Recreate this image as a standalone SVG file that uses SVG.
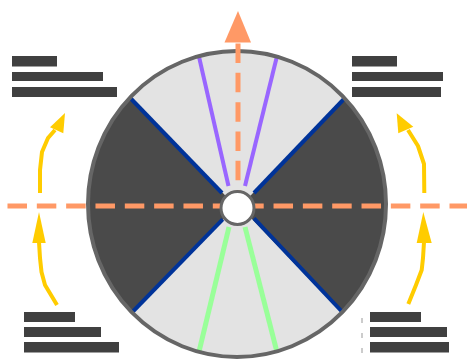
<svg xmlns="http://www.w3.org/2000/svg" width="467" height="362" viewBox="0 0 467 362">
<style>
.bar{fill:#404040}
.blue{stroke:#003399;stroke-width:4;fill:none}
.purple{stroke:#9966ff;stroke-width:4;fill:none}
.green{stroke:#99ff99;stroke-width:5;fill:none}
.dash{stroke:#ff9966;stroke-width:5;fill:none;stroke-dasharray:19.5 9.83}
.yel{stroke:#ffcc00;stroke-width:4;fill:none;stroke-linejoin:round}
.yelh{fill:#ffcc00}
</style>
<defs>
<clipPath id="disc"><ellipse cx="237" cy="204" rx="149" ry="153"/></clipPath>
</defs>
<rect width="467" height="362" fill="#ffffff"/>
<g id="wheel">
<ellipse cx="237" cy="204" rx="149" ry="153" fill="#e3e3e3"/>
<g clip-path="url(#disc)">
<polygon points="236,206.5 81,47 40,206 82,364.5" fill="#4a4a4a"/>
<polygon points="240,206.5 394,47 440,206 393,366.5" fill="#4a4a4a"/>
<line class="blue" x1="222" y1="193" x2="110" y2="77"/>
<line class="blue" x1="254" y1="193" x2="365" y2="77"/>
<line class="blue" x1="222.7" y1="219.3" x2="111" y2="334"/>
<line class="blue" x1="254" y1="218.3" x2="364" y2="335"/>
<line class="purple" x1="228.5" y1="186" x2="197" y2="48"/>
<line class="purple" x1="245" y1="186" x2="279" y2="48"/>
<line class="green" x1="229" y1="227" x2="197" y2="360"/>
<line class="green" x1="245" y1="227" x2="279" y2="360"/>
</g>
<ellipse cx="237" cy="204" rx="149" ry="153" fill="none" stroke="#666666" stroke-width="4"/>
</g>
<g id="connectors">
<path class="dash" d="M232.3 206 H7"/>
<path class="dash" d="M244.2 206 H467"/>
<path class="dash" d="M238 43.5 V206"/>
<polygon points="238,11 224.5,42.5 251,42.5" fill="#ff9966"/>
<path class="yel" d="M40 193 L40 170 L42 152 L48 138 L55 130"/>
<polygon class="yelh" points="65,113 50,127.3 63.3,133.3"/>
<path class="yel" d="M57 305 L45 285 L41.5 272 L40 258 L39 242"/>
<polygon class="yelh" points="39,212 32.3,243 45.7,243"/>
<path class="yel" d="M424.3 193 L424 164 L418 146 L408 130"/>
<polygon class="yelh" points="396.7,113.3 398.3,133.3 413.3,126.7"/>
<path class="yel" d="M408.3 304 L416 285 L421.7 270 L423 258 L424 242"/>
<polygon class="yelh" points="423.3,212 416.7,243 431.7,243"/>
<line x1="362" y1="318" x2="362" y2="353" stroke="#999999" stroke-width="1" stroke-dasharray="5 10"/>
</g>
<g id="hub">
<circle cx="237.5" cy="208" r="16.5" fill="#ffffff" stroke="#666666" stroke-width="3"/>
</g>
<g id="label-tl">
<rect class="bar" x="12" y="56" width="45" height="10.5"/>
<rect class="bar" x="12" y="72" width="91" height="9"/>
<rect class="bar" x="12" y="87" width="105" height="10"/>
</g>
<g id="label-tr">
<rect class="bar" x="352" y="56" width="45" height="10.5"/>
<rect class="bar" x="352" y="72" width="91" height="9"/>
<rect class="bar" x="352" y="87" width="89" height="10"/>
</g>
<g id="label-bl">
<rect class="bar" x="24" y="312" width="51" height="10"/>
<rect class="bar" x="24" y="327" width="77" height="10"/>
<rect class="bar" x="24" y="342" width="95" height="10.5"/>
</g>
<g id="label-br">
<rect class="bar" x="370" y="312" width="51" height="10"/>
<rect class="bar" x="370" y="327" width="77" height="10"/>
<rect class="bar" x="370" y="342" width="79" height="10.5"/>
</g>
</svg>
